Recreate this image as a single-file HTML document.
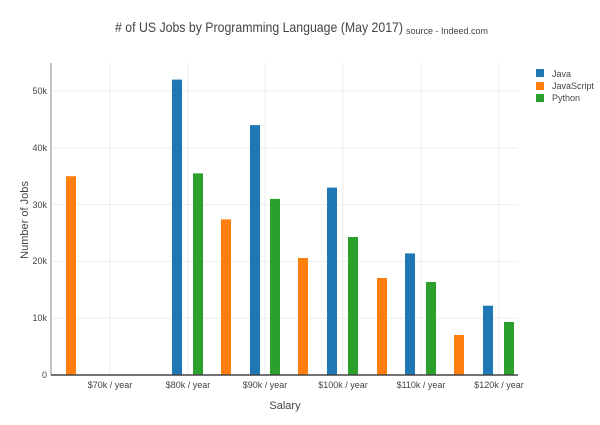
<!DOCTYPE html>
<html><head><style>body{margin:0;background:#fff}svg{display:block;font-family:"Liberation Sans","DejaVu Sans",sans-serif}</style></head>
<body>
<svg width="600" height="425" xmlns="http://www.w3.org/2000/svg">
<rect width="600" height="425" fill="#fff"/>
<g stroke="#eee" stroke-width="1">
<line x1="52" x2="518" y1="318.2" y2="318.2"/><line x1="52" x2="518" y1="261.4" y2="261.4"/>
<line x1="52" x2="518" y1="204.6" y2="204.6"/><line x1="52" x2="518" y1="147.8" y2="147.8"/>
<line x1="52" x2="518" y1="91" y2="91"/>
<line x1="110" x2="110" y1="63" y2="375"/><line x1="188" x2="188" y1="63" y2="375"/>
<line x1="265" x2="265" y1="63" y2="375"/><line x1="343" x2="343" y1="63" y2="375"/>
<line x1="421" x2="421" y1="63" y2="375"/><line x1="499" x2="499" y1="63" y2="375"/>
</g>
<g>
<rect x="66" y="176.2" width="10" height="198.8" fill="#ff7f0e"/>
<rect x="172" y="79.6" width="10" height="295.4" fill="#1f77b4"/>
<rect x="193" y="173.4" width="10" height="201.6" fill="#2ca02c"/>
<rect x="221" y="219.4" width="10" height="155.6" fill="#ff7f0e"/>
<rect x="250" y="125.1" width="10" height="249.9" fill="#1f77b4"/>
<rect x="270" y="198.9" width="10" height="176.1" fill="#2ca02c"/>
<rect x="298" y="258" width="10" height="117" fill="#ff7f0e"/>
<rect x="327" y="187.6" width="10" height="187.4" fill="#1f77b4"/>
<rect x="348" y="237" width="10" height="138" fill="#2ca02c"/>
<rect x="377" y="278" width="10" height="97" fill="#ff7f0e"/>
<rect x="405" y="253.4" width="10" height="121.6" fill="#1f77b4"/>
<rect x="426" y="282" width="10" height="93" fill="#2ca02c"/>
<rect x="454" y="335" width="10" height="40" fill="#ff7f0e"/>
<rect x="483" y="305.7" width="10" height="69.3" fill="#1f77b4"/>
<rect x="504" y="322" width="10" height="53" fill="#2ca02c"/>
</g>
<line x1="51" x2="51" y1="63" y2="375" stroke="#888" stroke-width="1"/>
<line x1="51" x2="518" y1="375" y2="375" stroke="#444" stroke-width="1.5"/>
<g font-size="9" fill="#444" text-anchor="end">
<text x="47" y="378">0</text><text x="47" y="321">10k</text><text x="47" y="264">20k</text>
<text x="47" y="208">30k</text><text x="47" y="151">40k</text><text x="47" y="94">50k</text>
</g>
<g font-size="9" fill="#444" text-anchor="middle">
<text x="110" y="388">$70k / year</text><text x="188" y="388">$80k / year</text>
<text x="265" y="388">$90k / year</text><text x="343" y="388">$100k / year</text>
<text x="421" y="388">$110k / year</text><text x="499" y="388">$120k / year</text>
</g>
<text x="285" y="409" font-size="11" fill="#444" text-anchor="middle">Salary</text>
<text transform="translate(28,220) rotate(-90)" font-size="11" fill="#444" text-anchor="middle">Number of Jobs</text>
<text x="115" y="32" font-size="14" fill="#444" textLength="288" lengthAdjust="spacingAndGlyphs">
# of US Jobs by Programming Language (May 2017)</text>
<text x="406" y="34" font-size="9" fill="#444" textLength="82" lengthAdjust="spacingAndGlyphs">source - Indeed.com</text>
<g font-size="9" fill="#444">
<rect x="536" y="69" width="8" height="8" fill="#1f77b4"/><text x="552" y="77">Java</text>
<rect x="536" y="82" width="8" height="8" fill="#ff7f0e"/><text x="552" y="89">JavaScript</text>
<rect x="536" y="94" width="8" height="8" fill="#2ca02c"/><text x="552" y="101">Python</text>
</g>
</svg>
</body></html>
